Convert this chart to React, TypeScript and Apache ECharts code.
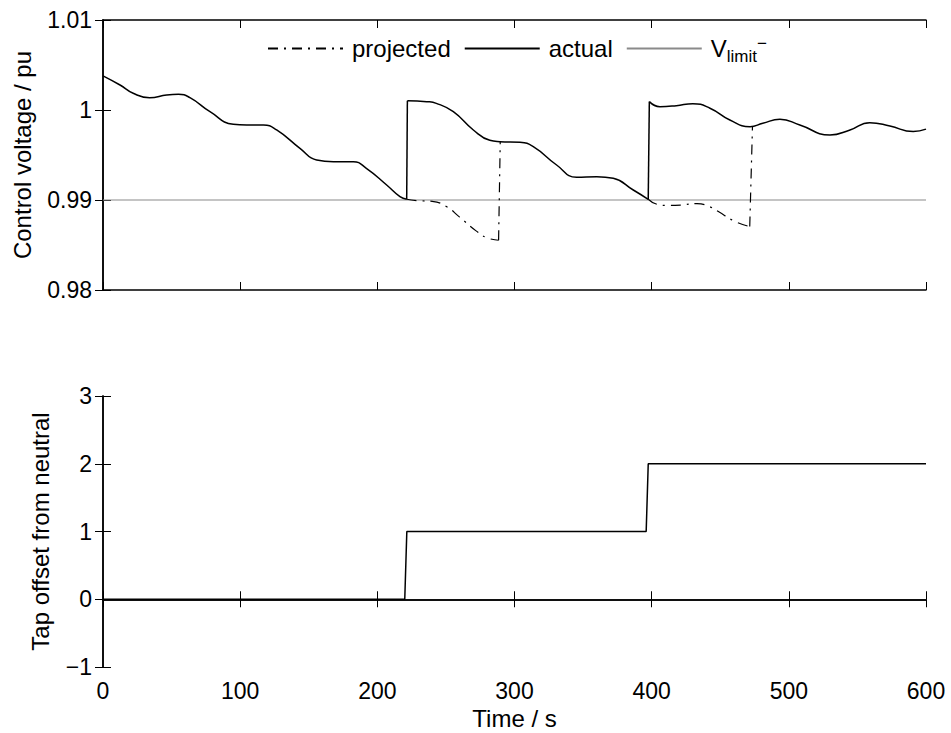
import React, { useEffect, useRef } from "react";
import * as echarts from "echarts";

// ---- Data ----
// actual control voltage, three continuous stretches between tap changes
const actualT1 = [0, 12.4, 22, 34, 46.4, 55, 63.4, 78, 95, 104.7, 117, 126.6, 143.6, 155.8, 168, 182.5, 192, 206.8, 216.5, 221.4];
const actualV1 = [1.0038, 1.00278, 1.00186, 1.00137, 1.00167, 1.00175, 1.00137, 0.99981, 0.99841, 0.99833, 0.99833, 0.99778, 0.99574, 0.99444, 0.99426, 0.99426, 0.99352, 0.99167, 0.99037, 0.99008];
const actualT2 = [221.9, 236, 243, 255.4, 270, 282, 289.4, 304, 313.7, 330.7, 345.3, 360, 372, 386.6, 397.5];
const actualV2 = [1.00104, 1.00093, 1.00074, 0.99981, 0.99778, 0.99663, 0.99648, 0.99641, 0.99593, 0.99389, 0.99252, 0.99259, 0.99241, 0.99111, 0.99008];
const actualT3 = [398.3, 406, 418, 430, 442.5, 457, 471.7, 481, 493.5, 508, 530, 544.6, 559, 573.7, 590.7, 600];
const actualV3 = [1.00093, 1.00037, 1.00048, 1.0007, 1.0002, 0.99889, 0.99815, 0.99852, 0.99897, 0.99833, 0.99722, 0.99778, 0.99859, 0.99822, 0.9976, 0.99787];
// vertical jumps at tap changes
const jumpT1 = [221.4, 221.9];
const jumpV1 = [0.99008, 1.00104];
const jumpT2 = [397.5, 398.3];
const jumpV2 = [0.99008, 1.00093];

const proj1T = [221.4, 230, 240, 250, 260, 272, 280, 288.4];
const proj1V = [0.99008, 0.98992, 0.98985, 0.9893, 0.9881, 0.98657, 0.9858, 0.98553];
const proj1UpT = [288.4, 289.6];
const proj1UpV = [0.98553, 0.99648];
const proj2T = [397.5, 404, 412, 421, 433, 440, 448, 460, 471.5];
const proj2V = [0.99008, 0.98952, 0.9894, 0.98944, 0.9896, 0.9894, 0.98878, 0.98767, 0.98705];
const proj2UpT = [471.5, 473.5];
const proj2UpV = [0.98705, 0.99818];

const limitT = [0, 600];
const limitV = [0.99, 0.99];

const tapT = [0, 220, 221.5, 396, 397.5, 600];
const tapV = [0, 0, 1, 1, 2, 2];

const xTicks = { min: 0, max: 600, interval: 100 };
const yTopTicks = { min: 0.98, max: 1.01, interval: 0.01 };
const yBotTicks = { min: -1, max: 3, interval: 1 };

const zip = (a: number[], b: number[]) => a.map((x, i) => [x, b[i]]);

const FONT = "'Liberation Sans', Arial, Helvetica, sans-serif";

export default function App() {
  const ref = useRef<HTMLDivElement>(null);
  useEffect(() => {
    document.body.style.margin = "0";
    const chart = echarts.init(ref.current!, undefined, { renderer: "svg" });
    const axisLine = { show: true, lineStyle: { color: "#000", width: 1.5 } };
    const tick = { show: true, inside: true, length: 8, lineStyle: { color: "#000", width: 1 } };
    const lbl = { color: "#000", fontSize: 23, fontFamily: FONT };
    const fmtY = (v: number) => {
      const s = String(parseFloat(v.toFixed(2)));
      return s.replace("-", "\u2212");
    };
    const grids = [
      { left: 103, right: 25, top: 20, height: 270 },
      { left: 103, right: 25, top: 396, height: 271 },
    ];
    const xAxes: any[] = [];
    const yAxes: any[] = [];
    [0, 1].forEach((g) => {
      xAxes.push({
        type: "value", gridIndex: g, position: "bottom", ...xTicks,
        axisLine, axisTick: tick, splitLine: { show: false },
        axisLabel: g === 1 ? { ...lbl, margin: 12 } : { show: false },
        name: g === 1 ? "Time / s" : "",
        nameLocation: "middle", nameGap: 39,
        nameTextStyle: { color: "#000", fontSize: 24, fontFamily: FONT },
      });
      xAxes.push({
        type: "value", gridIndex: g, position: "top", ...xTicks,
        axisLine, axisTick: tick, splitLine: { show: false }, axisLabel: { show: false },
      });
      const yt = g === 0 ? yTopTicks : yBotTicks;
      yAxes.push({
        type: "value", gridIndex: g, position: "left", ...yt,
        axisLine, axisTick: tick, splitLine: { show: false },
        axisLabel: { ...lbl, margin: 11, formatter: fmtY },
        name: g === 0 ? "Control voltage / pu" : "Tap offset from neutral",
        nameLocation: "middle", nameGap: g === 0 ? 69 : 51,
        nameTextStyle: { color: "#000", fontSize: 24, fontFamily: FONT },
      });
      yAxes.push({
        type: "value", gridIndex: g, position: "right", ...yt,
        axisLine, axisTick: tick, splitLine: { show: false }, axisLabel: { show: false },
      });
    });
    const dashDot = [10, 6, 2, 6];
    const projStyle = { color: "#000", width: 1.2, type: dashDot };
    const actStyle = { color: "#000", width: 1.5 };
    const mk = (name: string, t: number[], v: number[], lineStyle: any, smooth: number | boolean) => ({
      name, type: "line", xAxisIndex: 0, yAxisIndex: 0,
      data: zip(t, v), symbol: "none", showSymbol: false, smooth,
      lineStyle, itemStyle: { color: lineStyle.color },
    });
    chart.setOption({
      animation: false,
      backgroundColor: "#fff",
      textStyle: { fontFamily: FONT },
      grid: grids,
      xAxis: xAxes,
      yAxis: yAxes,
      legend: {
        left: 262, top: 30,
        itemWidth: 75, itemHeight: 14, itemGap: 13,
        data: ["projected", "actual", "Vlimit"],
        itemStyle: { opacity: 0 },
        formatter: (n: string) => (n === "Vlimit" ? "{v|V}{sub|limit}{sup|\u2212}" : n),
        textStyle: {
          color: "#000", fontSize: 24, fontFamily: FONT, padding: [0, 0, 0, 4],
          rich: {
            v: { fontSize: 24, color: "#000", fontFamily: FONT },
            sub: { fontSize: 17, color: "#000", fontFamily: FONT, padding: [16, 0, 0, 0] },
            sup: { fontSize: 17, color: "#000", fontFamily: FONT, padding: [0, 0, 10, 0] },
          },
        },
      },
      series: [
        mk("Vlimit", limitT, limitV, { color: "#8a8a8a", width: 1.2 }, false),
        mk("projected", proj1T, proj1V, projStyle, 0.5),
        mk("projected", proj1UpT, proj1UpV, projStyle, false),
        mk("projected", proj2T, proj2V, projStyle, 0.5),
        mk("projected", proj2UpT, proj2UpV, projStyle, false),
        mk("actual", actualT1, actualV1, actStyle, 0.5),
        mk("actual", jumpT1, jumpV1, actStyle, false),
        mk("actual", actualT2, actualV2, actStyle, 0.5),
        mk("actual", jumpT2, jumpV2, actStyle, false),
        mk("actual", actualT3, actualV3, actStyle, 0.5),
        {
          name: "tap", type: "line", xAxisIndex: 2, yAxisIndex: 2,
          data: zip(tapT, tapV), symbol: "none",
          lineStyle: { color: "#000", width: 1.5 }, itemStyle: { color: "#000" },
        },
      ],
    });
    return () => chart.dispose();
  }, []);
  return <div ref={ref} style={{ position: "absolute", left: 0, top: 0, width: 951, height: 733 }} />;
}
